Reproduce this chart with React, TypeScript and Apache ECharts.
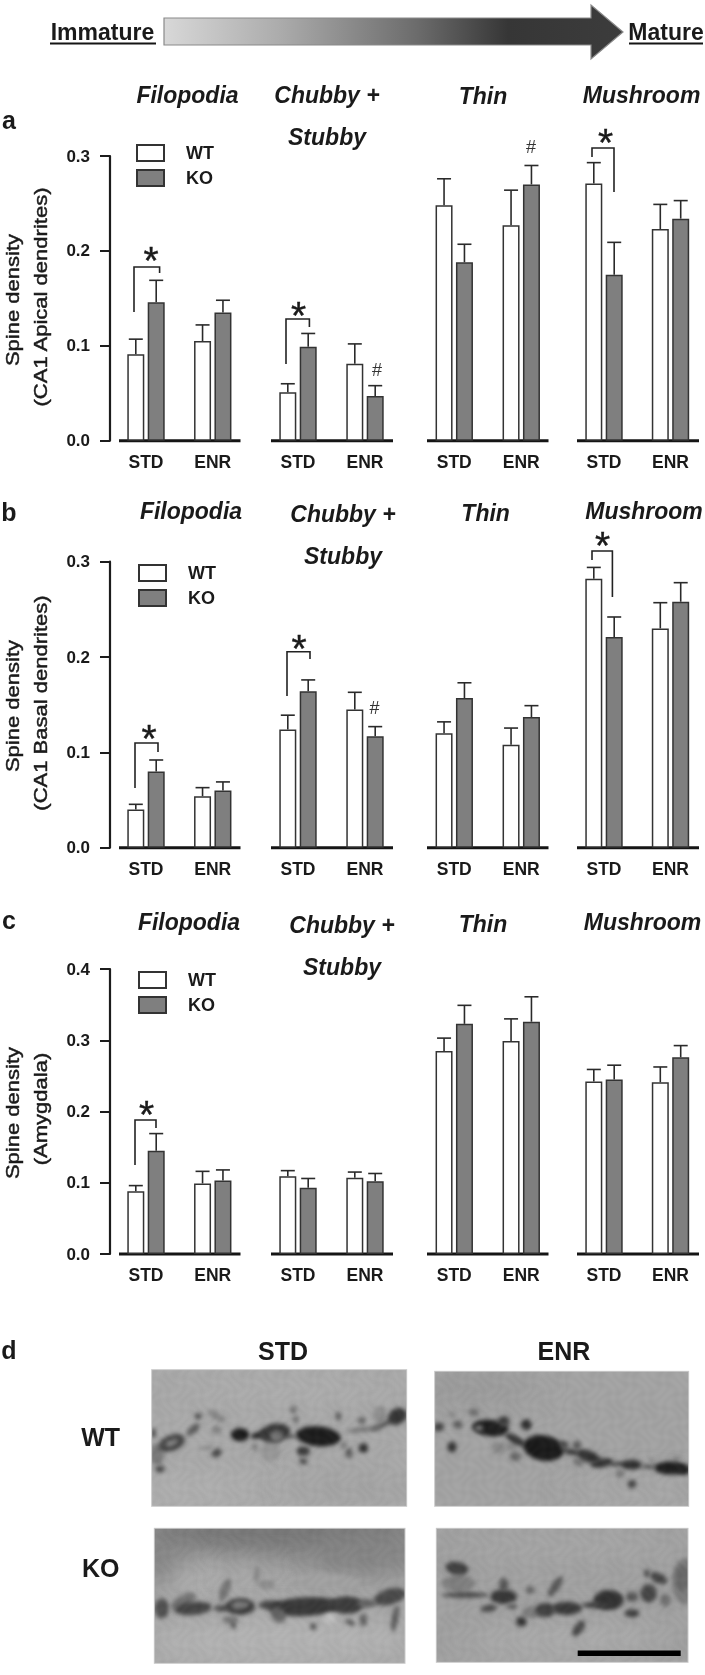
import React, { useEffect, useRef } from "react";
import * as echarts from "echarts";

const categories = ["STD", "ENR"];

// order: Filopodia STD, ENR, Chubby STD, ENR, Thin STD, ENR, Mushroom STD, ENR
const aWT = [0.091, 0.105, 0.051, 0.081, 0.248, 0.227, 0.271, 0.223];
const aKO = [0.146, 0.135, 0.099, 0.047, 0.188, 0.27, 0.175, 0.234];
const aWTTop = [0.107, 0.122, 0.06, 0.102, 0.276, 0.264, 0.293, 0.249];
const aKOTop = [0.169, 0.148, 0.113, 0.058, 0.207, 0.29, 0.209, 0.253];

const bWT = [0.04, 0.054, 0.124, 0.145, 0.12, 0.108, 0.282, 0.23];
const bKO = [0.08, 0.06, 0.164, 0.117, 0.157, 0.137, 0.221, 0.258];
const bWTTop = [0.0455, 0.063, 0.139, 0.163, 0.132, 0.1255, 0.294, 0.257];
const bKOTop = [0.092, 0.069, 0.176, 0.127, 0.173, 0.149, 0.242, 0.278];

const cWT = [0.088, 0.099, 0.109, 0.107, 0.285, 0.299, 0.242, 0.241];
const cKO = [0.145, 0.103, 0.093, 0.102, 0.323, 0.326, 0.245, 0.276];
const cWTTop = [0.096, 0.116, 0.117, 0.115, 0.303, 0.33, 0.259, 0.2625];
const cKOTop = [0.169, 0.118, 0.106, 0.113, 0.349, 0.361, 0.265, 0.2925];

const FONT = '"Liberation Sans", Arial, sans-serif';
const INK = "#1a1a1a";

const panels = [
  { top: 156, base: 440.7, max: 0.3, wt: aWT, ko: aKO, wtTop: aWTTop, koTop: aKOTop, legendLeft: 136, legendTop: 144 },
  { top: 561.7, base: 847.7, max: 0.3, wt: bWT, ko: bKO, wtTop: bWTTop, koTop: bKOTop, legendLeft: 138, legendTop: 564 },
  { top: 969, base: 1254, max: 0.4, wt: cWT, ko: cKO, wtTop: cWTTop, koTop: cKOTop, legendLeft: 138, legendTop: 971 },
];

const groupCentres = [
  [146, 212.75],
  [298, 365],
  [454.25, 521.25],
  [604, 670.5],
];
const baselineSpans = [
  [119, 240.5],
  [271, 393],
  [427, 548.5],
  [577, 699],
];

type Blob = number[]; // x, y, rx, ry, angle, grey (zoom-crop px)
const photos: { x: number; y: number; frame: number[]; bg: number; blobs: Blob[] }[] = [
  {
    x: 150,
    y: 1368,
    frame: [5, 5, 770, 415],
    bg: 168,
    blobs: [
      [380, 60, 300, 40, 0, 172], [120, 360, 200, 50, 0, 174], [600, 350, 180, 50, 0, 162],
      [20, 260, 22, 32, 0, 120], [65, 225, 42, 24, -20, 70], [65, 225, 20, 8, -20, 135], [10, 195, 8, 14, 0, 80],
      [30, 303, 14, 10, 0, 70], [145, 145, 10, 10, 0, 80], [130, 185, 24, 11, -40, 90], [200, 145, 32, 11, 30, 130],
      [200, 185, 14, 12, 0, 125], [200, 255, 16, 11, -30, 70], [170, 240, 22, 6, 0, 140], [315, 238, 8, 10, 0, 120],
      [360, 250, 32, 30, 0, 150], [430, 125, 10, 10, 0, 110], [437, 155, 10, 10, -30, 110],
      [690, 140, 20, 26, 0, 140], [640, 185, 50, 7, -5, 115], [700, 170, 40, 8, -25, 90],
      [270, 200, 28, 20, 0, 28], [330, 200, 30, 10, -15, 40], [375, 195, 46, 28, -10, 55], [380, 205, 20, 18, 0, 115],
      [420, 205, 20, 5, 0, 70], [505, 205, 68, 30, 5, 30], [742, 145, 30, 24, -30, 55],
      [460, 250, 20, 15, 0, 60], [460, 280, 12, 10, 0, 80], [565, 145, 9, 14, 0, 100], [635, 158, 12, 10, 0, 100],
      [640, 240, 14, 14, 0, 45], [597, 255, 10, 16, 0, 90], [580, 232, 10, 10, 0, 120],
    ],
  },
  {
    x: 432,
    y: 1368,
    frame: [8, 10, 770, 415],
    bg: 162,
    blobs: [
      [120, 60, 200, 40, 0, 152], [600, 380, 200, 40, 0, 168],
      [60, 140, 14, 10, 0, 140], [125, 133, 17, 12, 0, 115], [200, 240, 20, 18, 0, 135], [235, 235, 15, 10, 0, 130],
      [440, 282, 18, 14, 0, 120], [565, 317, 14, 14, 0, 125], [735, 270, 12, 8, 0, 130], [660, 275, 10, 6, 0, 135],
      [250, 265, 18, 14, 0, 105], [175, 180, 55, 25, 5, 32], [140, 180, 12, 8, 0, 130], [250, 215, 34, 12, 30, 50],
      [335, 240, 62, 38, 10, 28], [420, 252, 30, 9, 10, 60], [470, 265, 36, 17, 20, 50], [510, 285, 34, 13, -10, 50],
      [560, 288, 30, 6, 0, 60], [600, 290, 30, 15, 0, 50], [650, 296, 24, 6, 0, 75], [715, 300, 48, 20, 0, 32],
      [755, 305, 20, 15, 0, 35], [215, 160, 18, 16, 0, 60], [283, 170, 16, 16, 0, 45], [60, 237, 13, 17, 0, 50],
      [20, 177, 16, 14, 0, 70], [78, 170, 14, 12, 0, 90], [600, 348, 14, 13, 0, 70], [435, 232, 12, 14, 0, 85],
      [395, 230, 14, 12, 0, 75],
    ],
  },
  {
    x: 150,
    y: 1525,
    frame: [13, 10, 765, 415],
    bg: 165,
    blobs: [
      [390, 20, 460, 75, 0, 118], [650, 90, 180, 60, 0, 130], [40, 110, 70, 70, 0, 130], [140, 170, 90, 50, -20, 172],
      [290, 170, 70, 50, 0, 168], [520, 175, 110, 30, 0, 160], [390, 350, 420, 70, 0, 178],
      [320, 150, 8, 26, 0, 130], [225, 195, 14, 36, 20, 115], [240, 285, 25, 12, 0, 120], [250, 300, 8, 12, 0, 90],
      [350, 180, 25, 15, 0, 140], [100, 230, 42, 20, -30, 115],
      [35, 250, 22, 30, 0, 80], [130, 250, 55, 20, -5, 70], [215, 250, 24, 10, 0, 80], [270, 245, 45, 25, 0, 62],
      [270, 240, 28, 11, -5, 125], [360, 240, 35, 14, 0, 75], [465, 245, 110, 28, -3, 58], [590, 240, 50, 26, 0, 62],
      [650, 235, 30, 12, 0, 95], [720, 215, 50, 24, -15, 75], [385, 270, 20, 25, -40, 100], [490, 305, 8, 10, 0, 70],
      [600, 292, 16, 8, 30, 90], [735, 280, 10, 40, 10, 90], [640, 285, 12, 20, 0, 100], [540, 280, 18, 14, 0, 190],
    ],
  },
  {
    x: 432,
    y: 1525,
    frame: [13, 10, 768, 412],
    bg: 160,
    blobs: [
      [380, 60, 320, 40, 0, 165], [400, 350, 300, 50, 0, 170], [760, 170, 40, 70, 0, 125],
      [80, 175, 50, 25, 0, 125], [300, 262, 30, 18, 0, 125], [750, 160, 22, 40, 0, 105], [700, 225, 15, 20, 0, 110],
      [75, 130, 35, 20, 10, 65], [100, 210, 70, 9, 0, 75], [215, 215, 40, 22, 0, 55], [215, 180, 14, 22, 0, 85],
      [170, 250, 25, 10, -10, 70], [240, 245, 15, 8, 0, 90], [295, 195, 12, 12, 0, 100], [370, 185, 12, 36, 35, 85],
      [340, 255, 30, 22, 0, 65], [405, 250, 45, 20, 0, 60], [268, 290, 16, 15, 0, 55], [440, 310, 14, 28, 35, 75],
      [530, 225, 45, 30, 0, 50], [490, 240, 40, 10, 0, 65], [600, 265, 22, 12, 0, 65], [600, 215, 18, 15, 0, 85],
      [650, 205, 25, 28, 0, 70], [680, 160, 28, 15, 25, 70], [645, 145, 8, 12, 0, 75],
    ],
  },
];

function photoUrl(p: (typeof photos)[number]) {
  const canvas = document.createElement("canvas");
  canvas.width = 260;
  canvas.height = 142;
  const ctx = canvas.getContext("2d") as CanvasRenderingContext2D;
  const [x0, y0, x1, y1] = p.frame.map((v) => v / 3);
  const g = p.bg;
  ctx.fillStyle = `rgb(${g},${g},${g})`;
  ctx.fillRect(0, 0, 260, 142);
  for (const [x, y, rx, ry, a, grey] of p.blobs) {
    const big = rx > 60 && ry > 30 && grey > 110;
    ctx.filter = big ? "blur(14px)" : "blur(2px)";
    ctx.fillStyle = `rgb(${grey},${grey},${grey})`;
    ctx.beginPath();
    ctx.ellipse(x / 3, y / 3, rx / 3, ry / 3, (a * Math.PI) / 180, 0, Math.PI * 2);
    ctx.fill();
  }
  ctx.filter = "none";
  // faint film mottling, so the flat background reads as a micrograph
  const img = ctx.getImageData(0, 0, 260, 142);
  for (let yy = 0; yy < 142; yy++) {
    for (let xx = 0; xx < 260; xx++) {
      const n = 3.5 * Math.sin(xx * 0.37 + 2 * Math.sin(yy * 0.23)) * Math.cos(yy * 0.31 + 2 * Math.sin(xx * 0.19));
      const o = (yy * 260 + xx) * 4;
      img.data[o] += n;
      img.data[o + 1] += n;
      img.data[o + 2] += n;
    }
  }
  ctx.putImageData(img, 0, 0);
  // keep only the photo frame
  ctx.clearRect(0, 0, 260, y0);
  ctx.clearRect(0, y1, 260, 142 - y1);
  ctx.clearRect(0, 0, x0, 142);
  ctx.clearRect(x1, 0, 260 - x1, 142);
  ctx.strokeStyle = "#c9c9c9";
  ctx.lineWidth = 1;
  ctx.strokeRect(x0, y0, x1 - x0, y1 - y0);
  return canvas.toDataURL();
}

const txt = (text: string, x: number, y: number, size: number, weight = "bold", style = "normal", extra: any = {}) => {
  const { fill, stroke, lineWidth, ...rest } = extra;
  return {
    type: "text",
    x,
    y,
    silent: true,
    ...rest,
    style: {
      text,
      fill: fill || INK,
      stroke,
      lineWidth,
      fontFamily: FONT,
      fontSize: size,
      fontWeight: weight,
      fontStyle: style,
      align: "center",
      verticalAlign: "middle",
    },
  };
};

const title = (text: string, x: number, y: number) => txt(text, x, y, 23, "bold", "italic");
const star = (x: number, y: number) => txt("*", x, y + 6.5, 39, "normal", "normal", { stroke: INK, lineWidth: 0.4 });
const hash = (x: number, y: number) => txt("#", x, y, 18, "normal", "normal", { fill: "#333" });
const yLabel = (text: string, x: number, y: number) =>
  txt(text, x, y, 18.5, "normal", "normal", { rotation: Math.PI / 2, scaleX: 1.19, stroke: INK, lineWidth: 0.45 });
const bracket = (pts: number[][]) => ({
  type: "polyline",
  silent: true,
  shape: { points: pts },
  style: { stroke: "#222", lineWidth: 1.6, fill: "none" },
});
const hLine = (x0: number, x1: number, y: number, h: number, fill = "#151515") => ({
  type: "rect",
  silent: true,
  shape: { x: x0, y: y - h / 2, width: x1 - x0, height: h },
  style: { fill },
});

function errorSeries(name: string, gridIndex: number, tops: number[], vals: number[], dx: number) {
  return {
    type: "custom",
    name,
    xAxisIndex: gridIndex,
    yAxisIndex: gridIndex,
    silent: true,
    z: 1,
    data: tops.map((t, i) => [i, t, vals[i]]),
    encode: { x: 0, y: 1 },
    renderItem(_: any, api: any) {
      const a = api.coord([api.value(0), api.value(1)]);
      const b = api.coord([api.value(0), api.value(2)]);
      const x = a[0] + dx;
      const lineStyle = { stroke: "#2a2a2a", lineWidth: 1.6, fill: "none" };
      return {
        type: "group",
        children: [
          { type: "line", shape: { x1: x, y1: a[1], x2: x, y2: b[1] }, style: lineStyle },
          { type: "line", shape: { x1: x - 7, y1: a[1], x2: x + 7, y2: a[1] }, style: lineStyle },
        ],
      };
    },
  };
}

function buildOption() {
  const grid: any[] = [];
  const xAxis: any[] = [];
  const yAxis: any[] = [];
  const series: any[] = [];
  const legend: any[] = [];

  panels.forEach((p) => {
    legend.push({
      data: ["WT", "KO"],
      orient: "vertical",
      left: p.legendLeft,
      top: p.legendTop,
      itemWidth: 27,
      itemHeight: 16,
      itemGap: 7,
      icon: "rect",
      selectedMode: false,
      padding: 0,
      textStyle: { fontFamily: FONT, fontSize: 18, fontWeight: "bold", color: INK, padding: [0, 0, 0, 17] },
    });
    groupCentres.forEach(([c0, c1], g) => {
      const gi = grid.length;
      const step = c1 - c0;
      grid.push({ left: c0 - step / 2, width: step * 2, top: p.top, height: p.base - p.top });
      xAxis.push({
        type: "category",
        gridIndex: gi,
        data: categories,
        axisLine: { show: false },
        axisTick: { show: false },
        axisLabel: { fontFamily: FONT, fontSize: 17.5, fontWeight: "bold", color: INK, margin: 12, interval: 0 },
      });
      yAxis.push({
        type: "value",
        gridIndex: gi,
        min: 0,
        max: p.max,
        interval: 0.1,
        show: g === 0,
        offset: 2.6,
        splitLine: { show: false },
        axisLine: { show: true, lineStyle: { color: "#1c1c1c", width: 2.2 } },
        axisTick: { show: true, length: 10, lineStyle: { color: "#1c1c1c", width: 2 } },
        axisLabel: {
          fontFamily: FONT,
          fontSize: 17,
          fontWeight: "bold",
          color: INK,
          margin: 20,
          formatter: (v: number) => v.toFixed(1),
        },
      });
      const wt = p.wt.slice(g * 2, g * 2 + 2);
      const ko = p.ko.slice(g * 2, g * 2 + 2);
      const barBase = { type: "bar", xAxisIndex: gi, yAxisIndex: gi, barWidth: 17, barGap: "20%", silent: true, z: 2 };
      series.push({
        ...barBase,
        name: "WT",
        data: wt,
        itemStyle: { color: "#ffffff", borderColor: "#333333", borderWidth: 1.5 },
      });
      series.push({
        ...barBase,
        name: "KO",
        data: ko,
        itemStyle: { color: "#7f7f7f", borderColor: "#333333", borderWidth: 1.5 },
      });
      series.push(errorSeries("WT error", gi, p.wtTop.slice(g * 2, g * 2 + 2), wt, -10.2));
      series.push(errorSeries("KO error", gi, p.koTop.slice(g * 2, g * 2 + 2), ko, 10.2));
    });
  });

  const graphic: any[] = [];
  // maturation arrow
  graphic.push({
    type: "polygon",
    silent: true,
    shape: { points: [[164, 18], [591, 18], [591, 5], [623, 32], [591, 59], [591, 45], [164, 45]] },
    style: {
      stroke: "#8a8a8a",
      lineWidth: 1.2,
      fill: new echarts.graphic.LinearGradient(0, 0, 1, 0, [
        { offset: 0, color: "#d8d8d8" },
        { offset: 0.25, color: "#acacac" },
        { offset: 0.55, color: "#6c6c6c" },
        { offset: 0.75, color: "#363636" },
        { offset: 1, color: "#3c3c3c" },
      ]),
    },
  });
  graphic.push(txt("Immature", 102.5, 32, 23), hLine(50, 156, 43.5, 1.8));
  graphic.push(txt("Mature", 666, 32, 23), hLine(629, 703, 43.5, 1.8));

  // panel letters
  graphic.push(txt("a", 9, 120, 25), txt("b", 9, 512, 25), txt("c", 9, 920, 25), txt("d", 9, 1350, 25));

  // group titles
  graphic.push(
    title("Filopodia", 187.5, 95), title("Chubby +", 327, 95), title("Stubby", 327, 137), title("Thin", 483, 96), title("Mushroom", 641.6, 95),
    title("Filopodia", 191, 510.7), title("Chubby +", 343, 514), title("Stubby", 343, 556), title("Thin", 485.6, 512.7), title("Mushroom", 644, 510.7),
    title("Filopodia", 189, 922), title("Chubby +", 342, 925), title("Stubby", 342, 967), title("Thin", 483, 924), title("Mushroom", 642.5, 922)
  );

  // y titles
  graphic.push(
    yLabel("Spine density", 13, 300), yLabel("(CA1 Apical dendrites)", 41, 297),
    yLabel("Spine density", 13, 706), yLabel("(CA1 Basal dendrites)", 41, 703),
    yLabel("Spine density", 13, 1113), yLabel("(Amygdala)", 41, 1109)
  );

  // baselines
  panels.forEach((p) => {
    baselineSpans.forEach(([x0, x1]) => graphic.push(hLine(x0, x1, p.base, 3)));
  });

  // significance
  graphic.push(
    bracket([[134, 312], [134, 267], [159.6, 267], [159.6, 273]]), star(151, 254),
    bracket([[286, 364], [286, 319], [309.4, 319], [309.4, 327]]), star(298.6, 309),
    bracket([[592, 157], [592, 148], [614, 148], [614, 192]]), star(605.7, 136),
    hash(531, 146.7), hash(377, 370),
    bracket([[135, 788], [135, 743], [158, 743], [158, 752]]), star(149, 731.7),
    bracket([[287, 696], [287, 651.7], [310, 651.7], [310, 659]]), star(299, 641.7),
    bracket([[592, 560], [592, 551], [612.4, 551], [612.4, 597]]), star(602.5, 539),
    hash(374.6, 708),
    bracket([[135, 1165], [135, 1120], [156, 1120], [156, 1128]]), star(146.6, 1108)
  );

  // panel d
  graphic.push(txt("STD", 283, 1350.7, 25), txt("ENR", 564, 1350.7, 25), txt("WT", 100.7, 1437, 25), txt("KO", 100.7, 1568, 25));
  photos.forEach((p) => {
    graphic.push({
      type: "image",
      silent: true,
      x: p.x,
      y: p.y,
      style: { image: photoUrl(p), x: 0, y: 0, width: 260, height: 142 },
    });
  });
  graphic.push(hLine(577.7, 680.7, 1653.3, 5.4, "#000"));

  return { animation: false, backgroundColor: "#ffffff", grid, xAxis, yAxis, series, legend, graphic };
}

export default function App() {
  const ref = useRef<HTMLDivElement>(null);
  useEffect(() => {
    document.body.style.margin = "0";
    const chart = echarts.init(ref.current as HTMLDivElement, undefined, { renderer: "svg" });
    chart.setOption(buildOption() as any);
    return () => chart.dispose();
  }, []);
  return <div ref={ref} style={{ width: 705, height: 1675, filter: "blur(0.45px)" }} />;
}
